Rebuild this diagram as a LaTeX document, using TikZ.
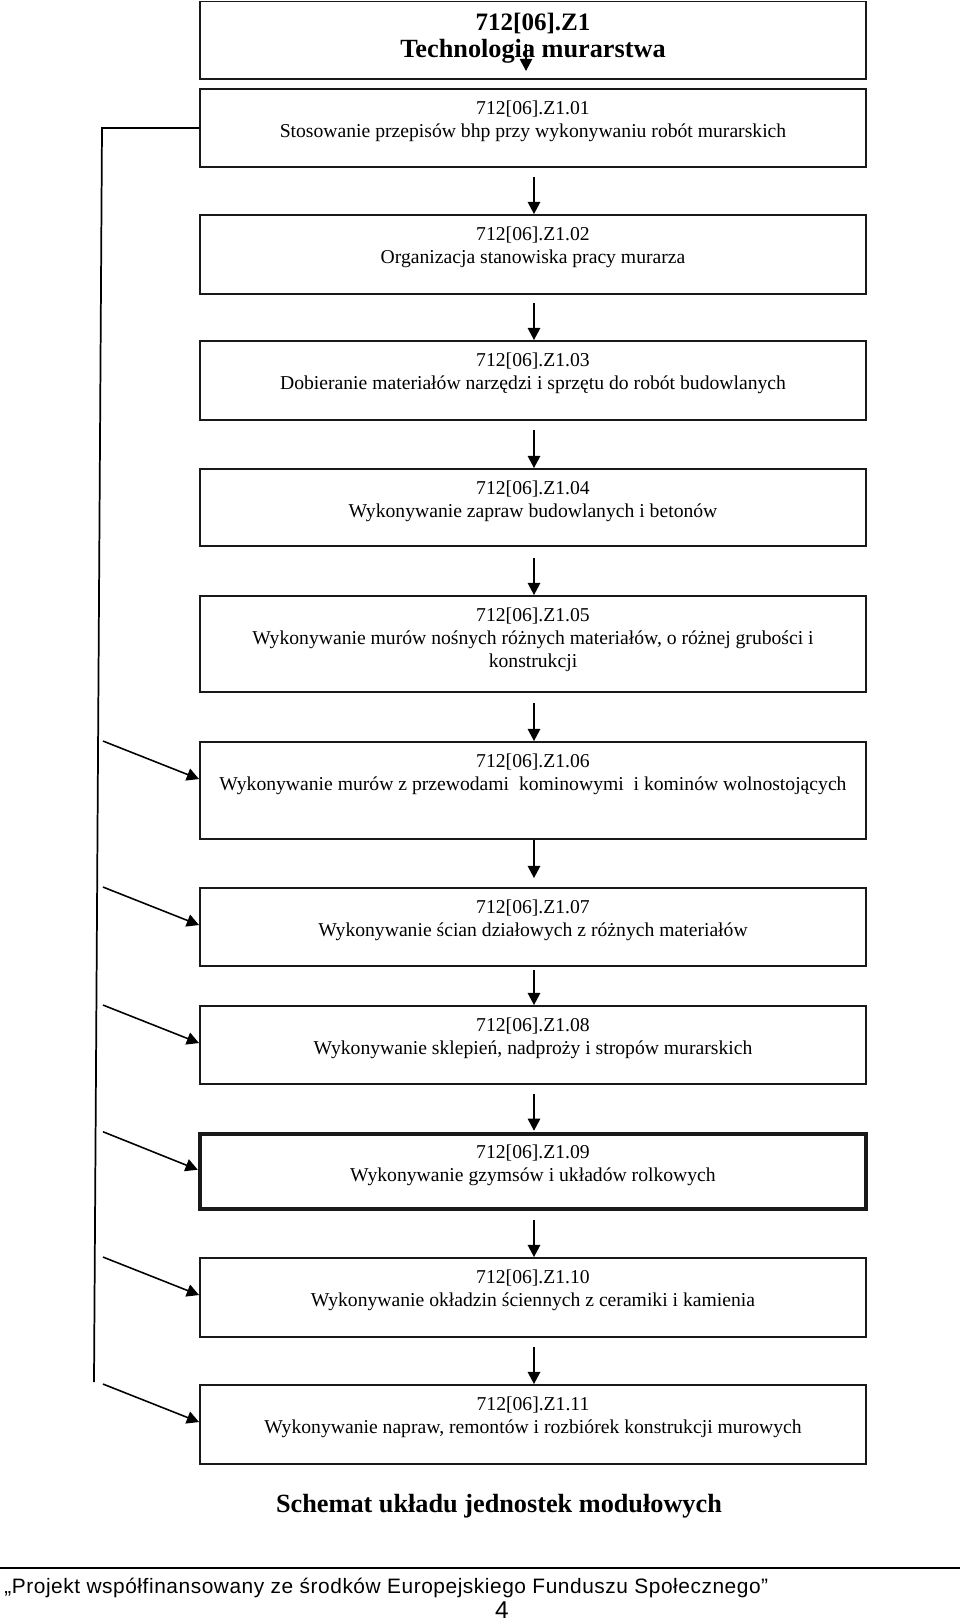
\documentclass[tikz,border=0pt]{standalone}
\usepackage{fontspec}
\setmainfont{Liberation Serif}
\setsansfont{Liberation Sans}
\newfontfamily\footfont[LetterSpace=2.7]{Liberation Sans}
\usetikzlibrary{arrows.meta,calc}
\begin{document}
\begin{tikzpicture}[x=0.575pt,y=-0.575pt,
  box/.style={draw=black!90, line width=1.1pt, minimum width={666*0.575pt}, inner sep=0pt},
  thickbox/.style={box, line width=2.6pt},
  txt/.style={anchor=north, inner sep=0pt, align=center, font=\fontsize{11.3}{13.2}\selectfont},
  ttl/.style={anchor=north, inner sep=0pt, align=center, font=\bfseries\fontsize{14.4}{15.5}\selectfont},
  arr/.style={line width=0.9pt, -{Triangle[length=7pt,width=7.2pt]}},
  conn/.style={line width=1pt}
]
\useasboundingbox (0,0) rectangle (960,1622);
% boxes
\node[box, minimum height={77.5*0.575pt}] (z1) at (533,40.25) {};
\node[box, minimum height={78*0.575pt}] (b01) at (533,128) {};
\node[box, minimum height={79*0.575pt}] (b02) at (533,254.5) {};
\node[box, minimum height={79*0.575pt}] (b03) at (533,380.5) {};
\node[box, minimum height={77*0.575pt}] (b04) at (533,507.5) {};
\node[box, minimum height={96*0.575pt}] (b05) at (533,644) {};
\node[box, minimum height={97*0.575pt}] (b06) at (533,790.5) {};
\node[box, minimum height={78*0.575pt}] (b07) at (533,927) {};
\node[box, minimum height={78*0.575pt}] (b08) at (533,1045) {};
\node[thickbox, minimum height={75*0.575pt}] (b09) at (533,1171.5) {};
\node[box, minimum height={79*0.575pt}] (b10) at (533,1297.5) {};
\node[box, minimum height={79*0.575pt}] (b11) at (533,1424.5) {};
% texts
\node[ttl] (tz1) at (533,13) {712[06].Z1\\{\fontsize{15.1}{15.5}\selectfont Technologia murarstwa}};
\node[txt] (t01) at ($(b01.north)+(0,12.5)$) {712[06].Z1.01\\Stosowanie przepisów bhp przy wykonywaniu robót murarskich};
\node[txt] (t02) at ($(b02.north)+(0,12.5)$) {712[06].Z1.02\\Organizacja stanowiska pracy murarza};
\node[txt] (t03) at ($(b03.north)+(0,12.5)$) {712[06].Z1.03\\Dobieranie materiałów narzędzi i sprzętu do robót budowlanych};
\node[txt] (t04) at ($(b04.north)+(0,12.5)$) {712[06].Z1.04\\Wykonywanie zapraw budowlanych i betonów};
\node[txt] (t05) at ($(b05.north)+(0,12.5)$) {712[06].Z1.05\\Wykonywanie murów nośnych różnych materiałów, o różnej grubości i\\konstrukcji};
\node[txt] (t06) at ($(b06.north)+(0,12.5)$) {712[06].Z1.06\\Wykonywanie murów z przewodami\ \ kominowymi\ \ i kominów wolnostojących};
\node[txt] (t07) at ($(b07.north)+(0,12.5)$) {712[06].Z1.07\\Wykonywanie ścian działowych z różnych materiałów};
\node[txt] (t08) at ($(b08.north)+(0,12.5)$) {712[06].Z1.08\\Wykonywanie sklepień, nadproży i stropów murarskich};
\node[txt] (t09) at ($(b09.north)+(0,12.5)$) {712[06].Z1.09\\Wykonywanie gzymsów i układów rolkowych};
\node[txt] (t10) at ($(b10.north)+(0,12.5)$) {712[06].Z1.10\\Wykonywanie okładzin ściennych z ceramiki i kamienia};
\node[txt] (t11) at ($(b11.north)+(0,12.5)$) {712[06].Z1.11\\Wykonywanie napraw, remontów i rozbiórek konstrukcji murowych};
% arrow inside title box
\coordinate (za) at (526,44);
\coordinate (zb) at (526,71);
\draw[arr] (za) -- (zb);
% down arrows
\draw[arr] ($(b01.south)+(1,9)$) -- ($(b02.north)+(1,0)$);
\draw[arr] ($(b02.south)+(1,8)$) -- ($(b03.north)+(1,0)$);
\draw[arr] ($(b03.south)+(1,9)$) -- ($(b04.north)+(1,0)$);
\draw[arr] ($(b04.south)+(1,11)$) -- ($(b05.north)+(1,0)$);
\draw[arr] ($(b05.south)+(1,10)$) -- ($(b06.north)+(1,0)$);
\draw[arr] ($(b06.south)+(1,0)$) -- ($(b07.north)+(1,-9)$);
\draw[arr] ($(b07.south)+(1,3)$) -- ($(b08.north)+(1,0)$);
\draw[arr] ($(b08.south)+(1,9)$) -- ($(b09.north)+(1,-1)$);
\draw[arr] ($(b09.south)+(1,9)$) -- ($(b10.north)+(1,0)$);
\draw[arr] ($(b10.south)+(1,9)$) -- ($(b11.north)+(1,0)$);
% left bypass line
\coordinate (lt) at (102,128);
\coordinate (lb) at (94,1382);
\draw[conn] (b01.west) -- (lt) -- (lb);
\foreach \b in {b06,b07,b08,b09,b10,b11}{
  \draw[arr] ($(\b.north west -| lt)+(1,0)$) -- ($(\b.north west)+(0,38)$);
}
% captions
\node[anchor=base, inner sep=0pt, font=\bfseries\fontsize{15.1}{18}\selectfont] (cap) at (499,1512) {Schemat układu jednostek modułowych};
\coordinate (fl) at (0,1568);
\coordinate (fr) at (960,1568);
\draw[line width=0.6pt] (fl) -- (fr);
\node[anchor=base west, inner sep=0pt, font=\footfont\fontsize{12}{14}\selectfont] (foot) at (4,1593) {„Projekt współfinansowany ze środków Europejskiego Funduszu Społecznego”};
\node[anchor=base, inner sep=0pt, font=\sffamily\fontsize{14}{16}\selectfont] (pg) at (502,1618) {4};
\end{tikzpicture}
\end{document}
